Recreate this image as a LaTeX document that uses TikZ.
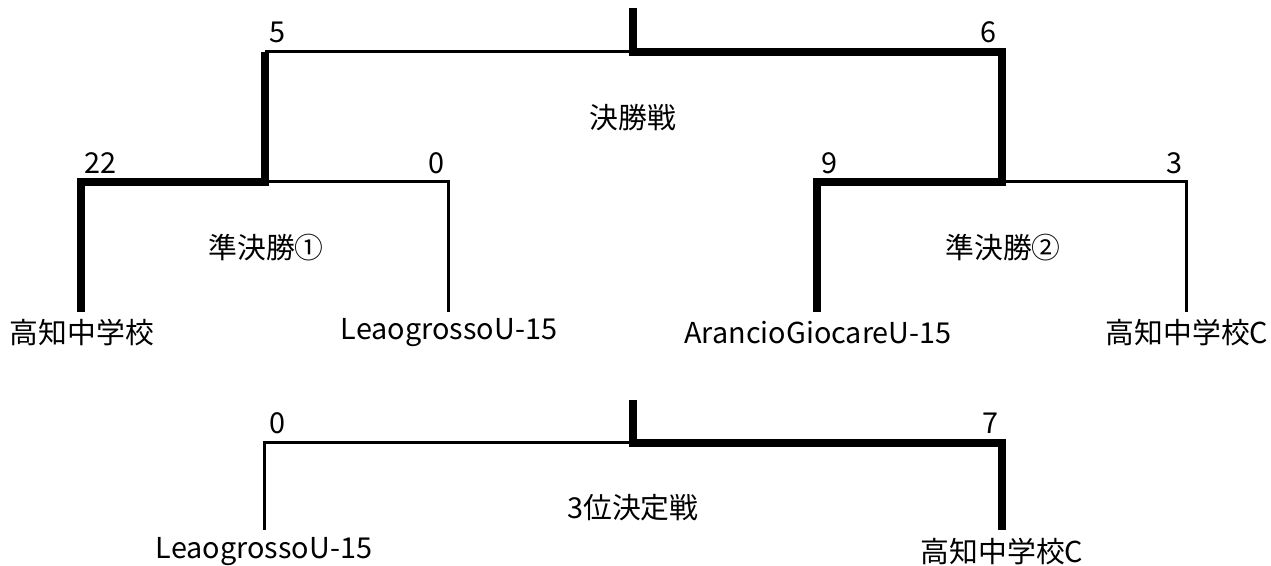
\documentclass[tikz,border=0pt]{standalone}
\usepackage{fontspec}
\setmainfont{Noto Sans CJK JP}
\begin{document}
\begin{tikzpicture}[x=0.5pt,y=-0.5pt,
  thinline/.style={line width=1.5pt,line join=miter},
  thickline/.style={line width=3.8pt,line join=miter},
  lbl/.style={inner sep=0pt,font=\fontsize{14.4}{17}\selectfont}]
\useasboundingbox (0,0) rectangle (1271,566);
% joints
\coordinate (ftop) at (633,8);
\coordinate (fmid) at (633,52);
\coordinate (fl) at (265,52);
\coordinate (fr) at (1002,52);
\coordinate (s1) at (265,182);
\coordinate (s1l) at (81,182);
\coordinate (s1r) at (448,182);
\coordinate (s2) at (1002,182);
\coordinate (s2l) at (817,182);
\coordinate (s2r) at (1186,182);
\coordinate (t1) at (81,312);
\coordinate (t2) at (448,312);
\coordinate (t3) at (817,312);
\coordinate (t4) at (1186,312);
\coordinate (btop) at (633,400);
\coordinate (bmid) at (633,443);
\coordinate (bl) at (264,443);
\coordinate (br) at (1002,443);
\coordinate (b1) at (264,530);
\coordinate (b2) at (1002,530);
% team names
\node[lbl] (n1) at (82,333) {高知中学校};
\node[lbl] (n2) at (449,333) {LeaogrossoU-15};
\node[lbl] (n3) at (818,333) {ArancioGiocareU-15};
\node[lbl] (n4) at (1187,333) {高知中学校C};
\node[lbl] (n5) at (264,552) {LeaogrossoU-15};
\node[lbl] (n6) at (1002,552) {高知中学校C};
% match titles
\node[lbl] (m1) at (633,118) {決勝戦};
\node[lbl] (m2) at (266,248) {準決勝①};
\node[lbl] (m3) at (1003,248) {準決勝②};
\node[lbl] (m4) at (633,508) {3位決定戦};
% scores
\node[lbl] (c1) at (277,32) {5};
\node[lbl] (c2) at (988,32) {6};
\node[lbl] (c3) at (100,163) {22};
\node[lbl] (c4) at (436,163) {0};
\node[lbl] (c5) at (829,163) {9};
\node[lbl] (c6) at (1174,163) {3};
\node[lbl] (c7) at (277,423) {0};
\node[lbl] (c8) at (990,423) {7};
% thin lines
\draw[thinline] (fl) -- (fmid);
\draw[thinline] (s1) -- (s1r) -- (t2);
\draw[thinline] (s2) -- (s2r) -- (t4);
\draw[thinline] (bmid) -- (bl) -- (b1);
% thick winner paths
\draw[thickline] (t1) -- (s1l) -- (s1) -- (fl);
\draw[thickline] (t3) -- (s2l) -- (s2) -- (fr) -- (fmid) -- (ftop);
\draw[thickline] (b2) -- (br) -- (bmid) -- (btop);
\end{tikzpicture}
\end{document}
